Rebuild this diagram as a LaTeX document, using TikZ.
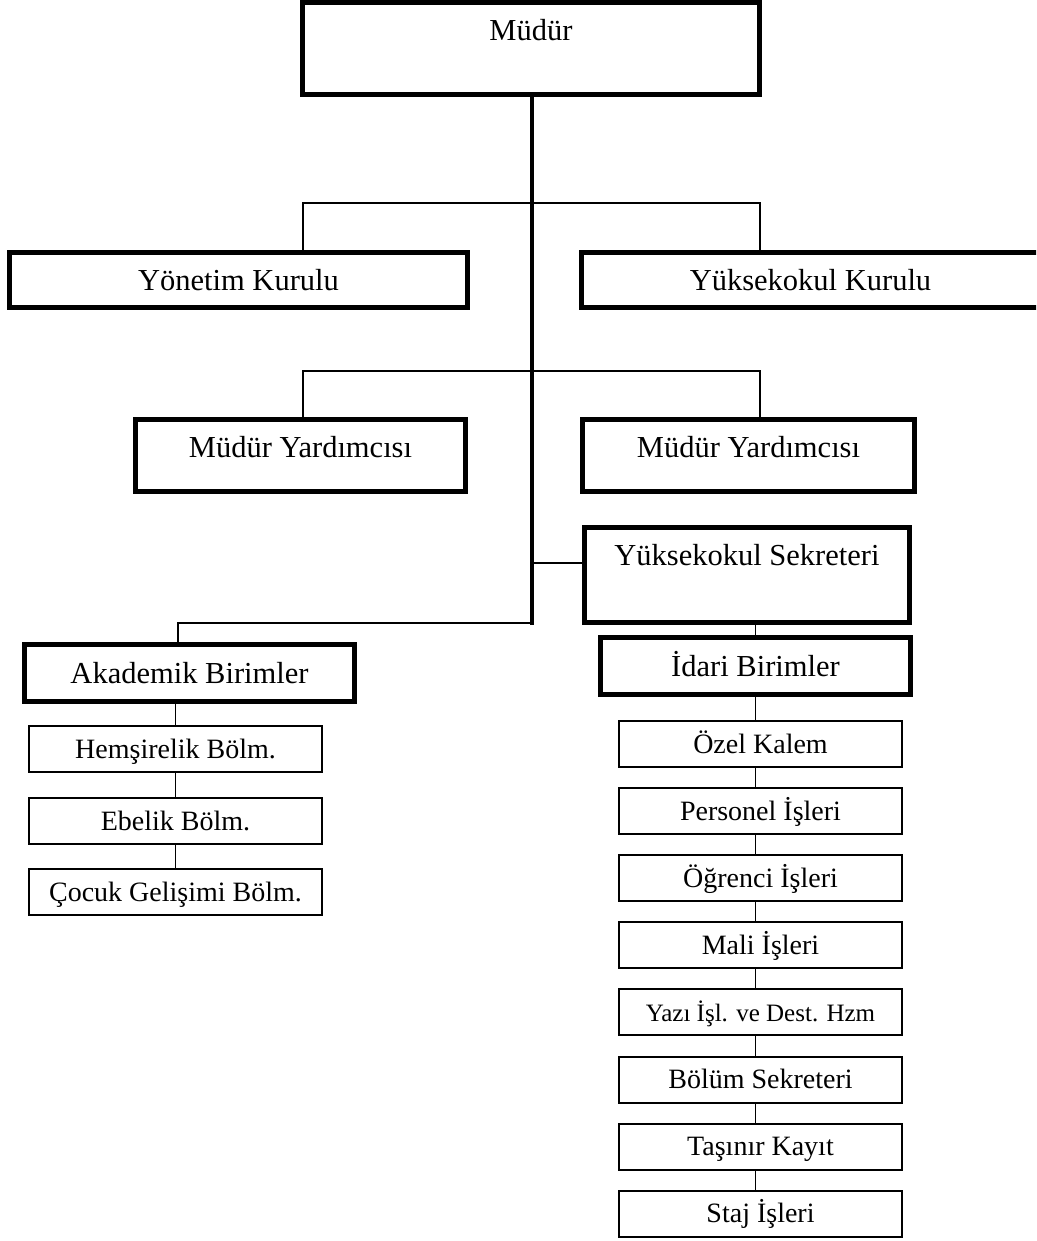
\documentclass[tikz,border=0pt]{standalone}
\usepackage{fontspec}
\setmainfont{Liberation Serif}
\usetikzlibrary{positioning}

\begin{document}
\begin{tikzpicture}[x=1pt, y=-1pt,
    bigbox/.style={draw, line width=5pt, rectangle, inner sep=0pt, minimum height=55pt, text height=20pt, text depth=0pt, font=\fontsize{30.5}{36}\selectfont},
    topbox/.style={bigbox, minimum height=0pt},
    smallbox/.style={draw, line width=2pt, rectangle, inner sep=0pt, minimum width=283pt, minimum height=46pt, text height=18.5pt, text depth=0pt, font=\fontsize{28}{33}\selectfont},
    thinline/.style={line width=1.7pt},
    trunk/.style={line width=4pt}
]

\useasboundingbox (0,0) rectangle (1036,1241);
\clip (0,0) rectangle (1036,1241);
\fill[white] (0,0) rectangle (1036,1241);

% upper part
\node[topbox, minimum width=457pt, text height=38.5pt, text depth=53.5pt, anchor=north] (mudur) at (531,0) {Müdür};
\node[bigbox, minimum width=458pt] (yonetim) at (238.5,280) {Yönetim Kurulu};
\node[bigbox, minimum width=458pt] (ykurul) at (810.5,280) {Yüksekokul Kurulu};
\node[topbox, minimum width=330pt, text height=37.5pt, text depth=34.5pt, anchor=north] (yard1) at (300.5,417) {Müdür Yardımcısı};
\node[topbox, minimum width=332pt, text height=37.5pt, text depth=34.5pt, anchor=north] (yard2) at (748.5,417) {Müdür Yardımcısı};
\node[topbox, minimum width=325pt, text height=37.5pt, text depth=57.5pt, anchor=north] (sekreter) at (747,525) {Yüksekokul Sekreteri};

% birimler
\node[bigbox, minimum width=330pt, minimum height=57pt] (akademik) at (189.5,673) {Akademik Birimler};
\node[bigbox, minimum width=310pt, minimum height=57pt] (idari) at (755.5,666) {İdari Birimler};

\node[smallbox, minimum width=293pt, below=21pt of akademik, xshift=-14pt] (hemsirelik) {Hemşirelik Bölm.};
\node[smallbox, minimum width=293pt, below=24pt of hemsirelik] (ebelik) {Ebelik Bölm.};
\node[smallbox, minimum width=293pt, below=23pt of ebelik] (cocuk) {Çocuk Gelişimi Bölm.};

\node[smallbox, below=23pt of idari, xshift=5pt] (ozel) {Özel Kalem};
\node[smallbox, below=19.1pt of ozel] (personel) {Personel İşleri};
\node[smallbox, below=19.1pt of personel] (ogrenci) {Öğrenci İşleri};
\node[smallbox, below=19.1pt of ogrenci] (mali) {Mali İşleri};
\node[smallbox, below=19.1pt of mali, font=\fontsize{25}{30}\selectfont] (yazi) {Yazı İşl. ve Dest. Hzm};
\node[smallbox, below=19.1pt of yazi] (bolum) {Bölüm Sekreteri};
\node[smallbox, below=19.1pt of bolum] (tasinir) {Taşınır Kayıt};
\node[smallbox, below=19.1pt of tasinir] (staj) {Staj İşleri};

% connectors
\coordinate (akjoin) at (532,623);
\coordinate (sekjoin) at (532,563);
\draw[trunk] (mudur.south -| akjoin) -- ([yshift=-2pt]akjoin);
\draw[thinline] ([xshift=64.5pt]yonetim.north) -- ++(0,-47) -| ([xshift=-50.5pt]ykurul.north);
\draw[thinline] ([xshift=2.5pt]yard1.north) -- ++(0,-46) -| ([xshift=11.5pt]yard2.north);
\draw[thinline] (sekjoin) -- (sekjoin -| sekreter.west);
\draw[thinline] (akjoin) -| ([xshift=-11.5pt]akademik.north);
\draw[thinline] (idari.north) -- (idari.north |- sekreter.south);

\draw[thinline] (hemsirelik.north) -- (hemsirelik.north |- akademik.south);
\foreach \a/\b in {hemsirelik/ebelik, ebelik/cocuk}
    \draw[thinline] (\a.south) -- (\b.north);

\draw[thinline] (idari.south) -- (idari.south |- ozel.north);
\foreach \a/\b in {ozel/personel, personel/ogrenci, ogrenci/mali, mali/yazi, yazi/bolum, bolum/tasinir, tasinir/staj}
    \draw[thinline] (\a.south -| idari.south) -- (\b.north -| idari.south);

\end{tikzpicture}
\end{document}
